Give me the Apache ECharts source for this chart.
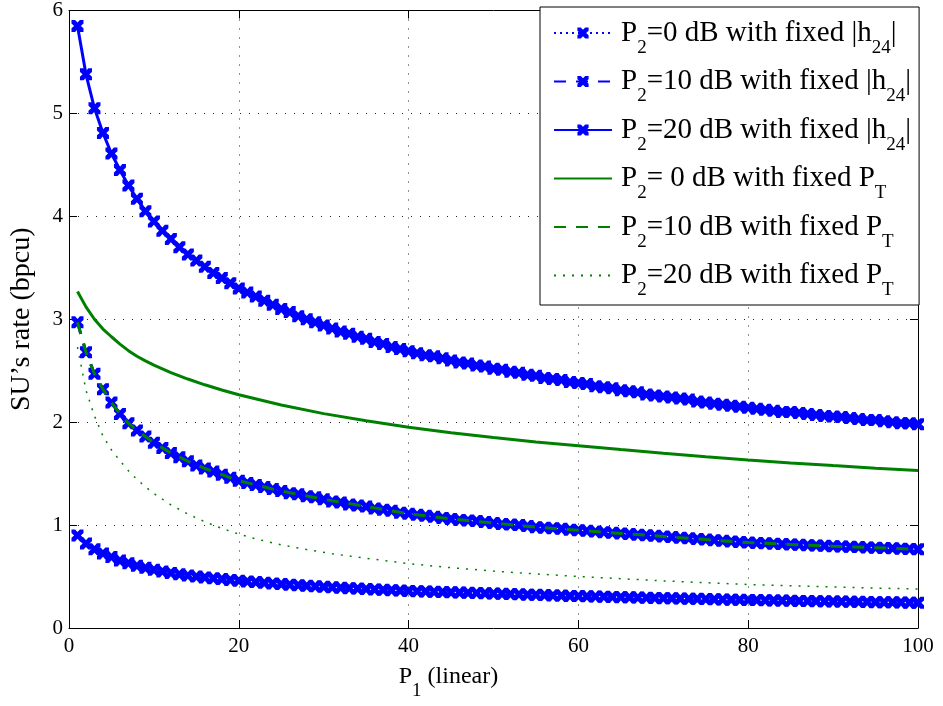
<!DOCTYPE html>
<html><head><meta charset="utf-8">
<script src="https://cdn.jsdelivr.net/npm/echarts@6/dist/echarts.min.js"></script>
<style>html,body{margin:0;padding:0;background:#fff}#c{width:943px;height:706px}</style>
</head><body><div id="c"></div>
<script>
// x values (P1, linear)
const P1 = [1,2,3,4,5,6,7,8,9,10,11,12,13,14,15,16,17,18,19,20,21,22,23,24,25,26,27,28,29,30,31,32,33,34,35,36,37,38,39,40,41,42,43,44,45,46,47,48,49,50,51,52,53,54,55,56,57,58,59,60,61,62,63,64,65,66,67,68,69,70,71,72,73,74,75,76,77,78,79,80,81,82,83,84,85,86,87,88,89,90,91,92,93,94,95,96,97,98,99,100];
// P2 = 0 dB with fixed |h24|
const h24_P0 = [0.90,0.82,0.765,0.725,0.69,0.655,0.63,0.605,0.585,0.565,
0.55,0.535,0.522,0.51,0.50,0.491,0.483,0.475,0.467,0.46,
0.453,0.446,0.439,0.433,0.427,0.421,0.416,0.41,0.405,0.40,
0.395,0.391,0.387,0.383,0.379,0.375,0.371,0.367,0.364,0.36,
0.357,0.355,0.352,0.349,0.347,0.344,0.342,0.34,0.337,0.335,
0.332,0.33,0.327,0.324,0.322,0.32,0.317,0.315,0.312,0.31,
0.308,0.306,0.304,0.302,0.30,0.298,0.296,0.294,0.292,0.29,
0.288,0.286,0.284,0.283,0.281,0.279,0.277,0.275,0.274,0.272,
0.271,0.269,0.268,0.266,0.265,0.263,0.262,0.261,0.259,0.258,
0.257,0.255,0.254,0.253,0.251,0.25,0.249,0.248,0.246,0.245];
// P2 = 10 dB with fixed |h24|
const h24_P10 = [2.97,2.68,2.47,2.32,2.19,2.08,1.99,1.92,1.86,1.80,
1.75,1.70,1.66,1.62,1.58,1.55,1.52,1.49,1.46,1.43,
1.41,1.39,1.37,1.35,1.33,1.31,1.30,1.28,1.27,1.25,
1.23,1.22,1.20,1.19,1.18,1.16,1.15,1.14,1.12,1.11,
1.10,1.09,1.08,1.07,1.06,1.05,1.045,1.04,1.03,1.02,
1.01,1.005,1.00,0.99,0.98,0.975,0.97,0.965,0.955,0.95,
0.944,0.937,0.931,0.925,0.919,0.913,0.907,0.901,0.896,0.89,
0.884,0.877,0.871,0.865,0.859,0.853,0.847,0.841,0.836,0.83,
0.826,0.823,0.819,0.816,0.812,0.809,0.805,0.802,0.798,0.795,
0.792,0.789,0.786,0.783,0.78,0.777,0.774,0.771,0.768,0.765];
// P2 = 20 dB with fixed |h24|
const h24_P20 = [5.85,5.38,5.05,4.81,4.61,4.45,4.30,4.17,4.05,3.95,
3.86,3.78,3.70,3.63,3.57,3.51,3.45,3.40,3.35,3.30,
3.26,3.22,3.18,3.14,3.10,3.07,3.03,3.00,2.97,2.94,
2.91,2.88,2.86,2.83,2.81,2.78,2.76,2.73,2.71,2.69,
2.67,2.65,2.64,2.62,2.60,2.58,2.57,2.55,2.54,2.52,
2.51,2.49,2.48,2.46,2.45,2.43,2.42,2.41,2.39,2.38,
2.37,2.35,2.34,2.33,2.31,2.30,2.29,2.27,2.26,2.25,
2.24,2.23,2.22,2.20,2.19,2.18,2.17,2.16,2.15,2.14,
2.13,2.12,2.11,2.10,2.10,2.09,2.08,2.07,2.06,2.055,
2.05,2.04,2.03,2.02,2.02,2.01,2.00,1.99,1.99,1.98];
// fixed PT curves
const ptX = [1,2,3,4,5,6,7,8,9,10,12,14,16,18,20,25,30,35,40,45,50,55,60,65,70,75,80,85,90,95,100];
const PT_P0 = [3.27,3.12,3.00,2.905,2.83,2.758,2.695,2.641,2.596,2.555,2.482,2.419,2.363,2.312,2.266,2.167,2.083,2.013,1.951,1.897,1.85,1.808,1.772,1.734,1.698,1.664,1.632,1.604,1.578,1.553,1.53];
const PT_P10 = [2.97,2.68,2.47,2.32,2.19,2.08,1.99,1.92,1.86,1.80,1.70,1.62,1.55,1.49,1.43,1.33,1.25,1.18,1.11,1.06,1.02,0.98,0.95,0.919,0.89,0.859,0.83,0.812,0.795,0.78,0.765];
const ptX20 = [1,1.5,2,3,4,5,6,7,8,9,10,12,14,16,18,20,22,25,28,31,34,40,45,50,55,60,65,70,75,80,85,90,95,100];
const PT_P20 = [2.73,2.52,2.31,2.06,1.865,1.73,1.625,1.528,1.444,1.372,1.307,1.197,1.107,1.032,0.968,0.913,0.866,0.808,0.762,0.722,0.688,0.625,0.586,0.553,0.525,0.501,0.479,0.458,0.44,0.423,0.41,0.399,0.388,0.379];

const xTicks = [0,20,40,60,80,100];
const yTicks = [0,1,2,3,4,5,6];

const names = ['P2=0 dB with fixed |h24|','P2=10 dB with fixed |h24|','P2=20 dB with fixed |h24|',
               'P2= 0 dB with fixed PT','P2=10 dB with fixed PT','P2=20 dB with fixed PT'];
const legendRich = {
  'P2=0 dB with fixed |h24|':'P{s|2}=0 dB with fixed |h{s|24}|',
  'P2=10 dB with fixed |h24|':'P{s|2}=10 dB with fixed |h{s|24}|',
  'P2=20 dB with fixed |h24|':'P{s|2}=20 dB with fixed |h{s|24}|',
  'P2= 0 dB with fixed PT':'P{s|2}= 0 dB with fixed P{s|T}',
  'P2=10 dB with fixed PT':'P{s|2}=10 dB with fixed P{s|T}',
  'P2=20 dB with fixed PT':'P{s|2}=20 dB with fixed P{s|T}'
};

const FONT = 'Liberation Serif';
const BLUE = '#0000ff', GREEN = '#008000';
const XSYM = 'path://M0,0 L3,0 L5,2.2 L7,0 L10,0 L10,3 L7.8,5 L10,7 L10,10 L7,10 L5,7.8 L3,10 L0,10 L0,7 L2.2,5 L0,3 Z';

const pairs = (xs, ys) => xs.map((x, i) => [x, ys[i]]);

const chart = echarts.init(document.getElementById('c'), null, {renderer: 'canvas'});
const subStyle = {fontSize: 19, fontFamily: FONT, color: '#000', padding: [30, 0, 0, 0]};

const blueSeries = (name, ys, type, width) => ({
  name, type: 'line', data: pairs(P1, ys),
  symbol: XSYM, symbolSize: 12, showSymbol: true,
  itemStyle: {color: BLUE}, lineStyle: {color: BLUE, width, type},
  emphasis: {disabled: true}, z: 3
});
const greenSeries = (name, xs, ys, type, width) => ({
  name, type: 'line', data: pairs(xs, ys), symbol: 'none', smooth: false,
  itemStyle: {color: GREEN}, lineStyle: {color: GREEN, width, type},
  emphasis: {disabled: true}, z: 4
});
const hidden = {opacity: 0, color: 'rgba(0,0,0,0)', borderWidth: 0};

chart.setOption({
  animation: false,
  backgroundColor: '#fff',
  grid: {left: 67, right: 25, top: 7, bottom: 78, containLabel: false},
  legend: {
    orient: 'vertical', left: 540, top: 7,
    data: [names[0], names[1], names[2],
           {name: names[3], itemStyle: hidden}, {name: names[4], itemStyle: hidden}, {name: names[5], itemStyle: hidden}],
    backgroundColor: '#fff', borderColor: '#000', borderWidth: 1, borderRadius: 0,
    padding: [4, 8, 5, 13],
    itemWidth: 58, itemHeight: 14, itemGap: 2,
    selectedMode: false,
    formatter: n => legendRich[n],
    textStyle: {fontSize: 29, lineHeight: 44, fontFamily: FONT, color: '#000', padding: [0,0,0,4], rich: {s: subStyle}}
  },
  xAxis: [{
    type: 'value', min: 0, max: 100, interval: 20, position: 'bottom',
    name: 'P{s|1} (linear)', nameLocation: 'middle', nameGap: 24,
    nameTextStyle: {fontSize: 24, fontFamily: FONT, color: '#000', padding: [0, 90, 0, 0], rich: {s: subStyle}},
    axisLine: {show: true, onZero: false, lineStyle: {color: '#000', width: 1}},
    axisTick: {show: true, inside: true, length: 8, lineStyle: {color: '#000'}},
    axisLabel: {fontSize: 21, fontFamily: FONT, color: '#000', margin: 8},
    splitLine: {show: true, lineStyle: {color: '#222', width: 1, type: [1, 8]}}
  }, {
    type: 'value', min: 0, max: 100, interval: 20, position: 'top',
    axisLine: {show: true, onZero: false, lineStyle: {color: '#000', width: 1}},
    axisTick: {show: true, inside: true, length: 8, lineStyle: {color: '#000'}},
    axisLabel: {show: false}, splitLine: {show: false}
  }],
  yAxis: [{
    type: 'value', min: 0, max: 6, interval: 1, position: 'left',
    name: 'SU\u2019s rate (bpcu)', nameLocation: 'middle', nameGap: 33, nameRotate: 90,
    nameTextStyle: {fontSize: 28, fontFamily: FONT, color: '#000'},
    axisLine: {show: true, onZero: false, lineStyle: {color: '#000', width: 1}},
    axisTick: {show: true, inside: true, length: 8, lineStyle: {color: '#000'}},
    axisLabel: {fontSize: 21, fontFamily: FONT, color: '#000', margin: 6},
    splitLine: {show: true, lineStyle: {color: '#222', width: 1, type: [1, 8]}}
  }, {
    type: 'value', min: 0, max: 6, interval: 1, position: 'right',
    axisLine: {show: true, onZero: false, lineStyle: {color: '#000', width: 1}},
    axisTick: {show: true, inside: true, length: 8, lineStyle: {color: '#000'}},
    axisLabel: {show: false}, splitLine: {show: false}
  }],
  series: [
    blueSeries(names[0], h24_P0, [2, 4], 2),
    blueSeries(names[1], h24_P10, [12, 10], 3),
    blueSeries(names[2], h24_P20, 'solid', 3),
    greenSeries(names[3], ptX, PT_P0, 'solid', 3),
    greenSeries(names[4], ptX, PT_P10, [12, 10], 3),
    greenSeries(names[5], ptX20, PT_P20, [2, 7], 1.5)
  ]
});
</script></body></html>
